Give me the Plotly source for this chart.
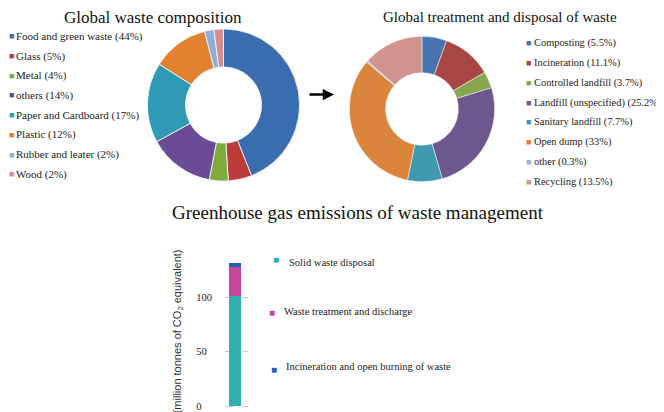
import plotly.graph_objects as go

# ---------------- data ----------------
comp_labels = ["Food and green waste", "Glass", "Metal", "others",
               "Paper and Cardboard", "Plastic", "Rubber and leater", "Wood"]
comp_values = [44, 5, 4, 14, 17, 12, 2, 2]
comp_colors = ["#3A6CB0", "#BC3C3C", "#7EAA3E", "#6B4A96",
               "#2F9AB4", "#E2812F", "#8DAEDB", "#D88B8B"]

treat_labels = ["Composting", "Incineration", "Controlled landfill",
                "Landfill (unspecified)", "Sanitary landfill", "Open dump",
                "other", "Recycling"]
treat_values = [5.5, 11.1, 3.7, 25.2, 7.7, 33, 0.3, 13.5]
treat_colors = ["#4673AE", "#A84643", "#87A54F", "#6D578F",
                "#4199B1", "#DB843B", "#9AB1D4", "#D19390"]

ghg_category = ["Waste"]
ghg_labels = ["Solid waste disposal", "Waste treatment and discharge",
              "Incineration and open burning of waste"]
ghg_values = [101, 27, 4]
ghg_colors = ["#2EB1AE", "#C7479B", "#2262B6"]

tick_vals = [0, 50, 100]
tick_labels = ["0", "50", "100"]

titles = ["Global waste composition",
          "Global treatment and disposal of waste",
          "Greenhouse gas emissions of waste management"]

# ---------------- layout helpers ----------------
# the page body has an 8px margin, so the figure is placed at (8, 8)
OFF = 8
W, H = 656, 404
SERIF = "Liberation Serif, Times New Roman, serif"
SANS = "Liberation Sans, Arial, sans-serif"


def X(px):
    return (px - OFF) / W


def Y(py):
    return 1 - (py - OFF) / H


fig = go.Figure()

# left donut (centre 223.5,105.5  r 76.5)
fig.add_trace(go.Pie(
    labels=comp_labels, values=comp_values, hole=0.5, sort=False,
    direction="clockwise", rotation=0, textinfo="none",
    marker=dict(colors=comp_colors, line=dict(color="white", width=0.8)),
    domain=dict(x=[X(147), X(300)], y=[Y(182), Y(29)]),
    showlegend=False,
))

# right donut (centre 422,109.5  r 73)
fig.add_trace(go.Pie(
    labels=treat_labels, values=treat_values, hole=0.5, sort=False,
    direction="clockwise", rotation=0, textinfo="none",
    marker=dict(colors=treat_colors, line=dict(color="white", width=0.5)),
    domain=dict(x=[X(349), X(495)], y=[Y(182.5), Y(36.5)]),
    showlegend=False,
))

# stacked bar
for lab, val, col in zip(ghg_labels, ghg_values, ghg_colors):
    fig.add_trace(go.Bar(
        x=ghg_category, y=[val], name=lab,
        marker=dict(color=col, line=dict(width=0)),
        width=0.52, showlegend=False,
    ))

annotations = []


def add_text(text, px, py, size, family=SERIF, color="#111", xanchor="left"):
    annotations.append(dict(
        text=text, x=X(px), y=Y(py), xref="paper", yref="paper",
        showarrow=False, xanchor=xanchor, yanchor="middle", borderpad=0,
        font=dict(family=family, size=size, color=color)))


# titles
add_text(titles[0], 153, 18, 17, xanchor="center")
add_text(titles[1], 500, 17.5, 15, xanchor="center")
add_text(titles[2], 358, 214, 19, xanchor="center")

# left legend
for i, (lab, val, col) in enumerate(zip(comp_labels, comp_values, comp_colors)):
    py = 36.5 + i * 19.8
    add_text("■", 11, py, 9, color=col, xanchor="center")
    add_text(f"{lab} ({val:g}%)", 15, py, 11, color="#222")

# right legend
for i, (lab, val, col) in enumerate(zip(treat_labels, treat_values, treat_colors)):
    py = 43 + i * 20
    add_text("■", 528.5, py, 9, color=col, xanchor="center")
    add_text(f"{lab} ({val:g}%)", 533, py, 10.4, color="#222")

# bar legend
bar_marker_pos = [(276, 261), (272, 314), (274, 371)]
bar_text_pos = [(288, 264), (283, 313), (285, 368)]
for (mx, my), (tx, ty), lab, col in zip(bar_marker_pos, bar_text_pos, ghg_labels, ghg_colors):
    add_text("■", mx, my, 10, color=col, xanchor="center")
    add_text(lab, tx, ty, 10.5, color="#222")

# arrow between donuts
annotations.append(dict(text="", x=X(334), y=Y(95), xref="paper", yref="paper",
                        ax=-26, ay=0, showarrow=True, arrowhead=2, arrowsize=0.9,
                        arrowwidth=2.5, arrowcolor="#000"))

# pad tick labels so they appear left-aligned like the reference
maxlen = max(len(t) for t in tick_labels)
padded = [t + "\u00a0\u00a0" * (maxlen - len(t)) for t in tick_labels]

fig.update_layout(
    width=W, height=H,
    margin=dict(l=0, r=0, t=0, b=0),
    paper_bgcolor="white", plot_bgcolor="white",
    barmode="stack",
    showlegend=False,
    annotations=annotations,
    xaxis=dict(domain=[X(225), X(248)], range=[-0.435, 0.565], type="category",
               visible=False),
    yaxis=dict(domain=[0, Y(254)], range=[-3.67, 141.3],
               tickvals=tick_vals, ticktext=padded, ticks="",
               ticklabelstandoff=12, ticklabeloverflow="allow",
               tickfont=dict(family=SERIF, size=10.5, color="#222"),
               showgrid=True, gridcolor="#c8c8c8", griddash="dash", gridwidth=1,
               zeroline=False, showline=False,
               title=dict(text="(million tonnes of CO<sub>2</sub> equivalent)",
                          font=dict(family=SANS, size=11, color="#333"),
                          standoff=12)),
)

fig.write_html("out.html")
